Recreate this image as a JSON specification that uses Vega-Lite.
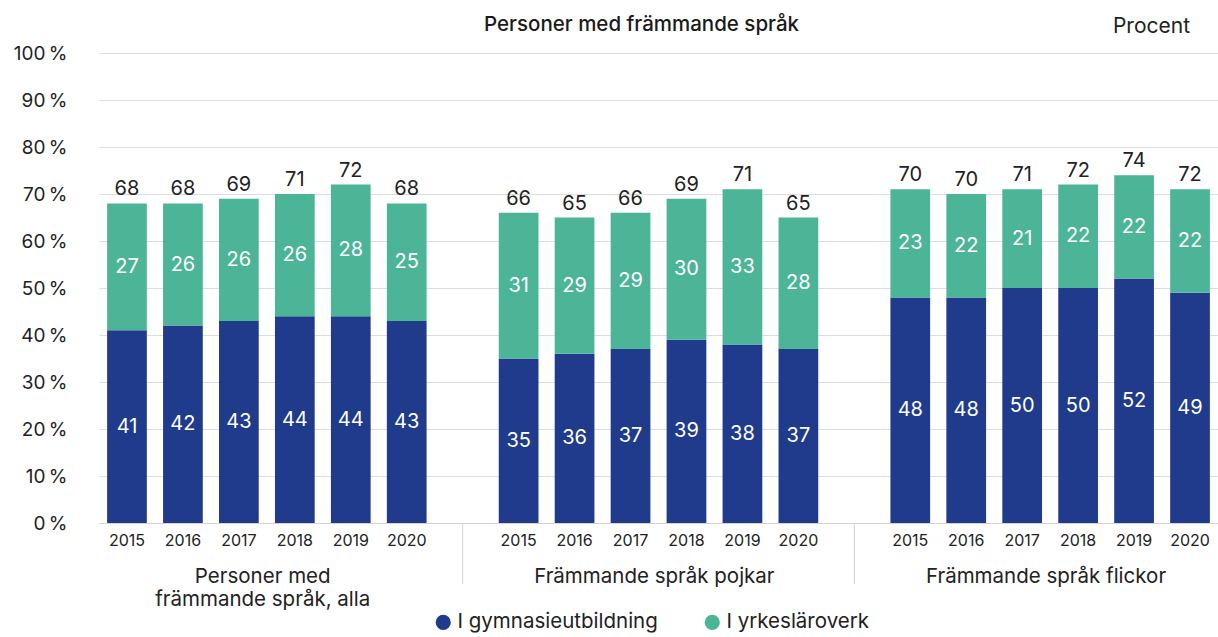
{
  "$schema": "https://vega.github.io/schema/vega-lite/v6.json",
  "width": 1119,
  "height": 470,
  "autosize": {"type": "none"},
  "padding": {"left": 99, "top": 53, "right": 0, "bottom": 114},
  "background": "white",
  "config": {"font": "Inter", "view": {"stroke": null}},
  "title": {"text": "Personer med främmande språk", "fontSize": 20.5, "fontWeight": 500, "color": "#1a1a1a", "anchor": "middle", "dx": -17, "offset": -19},
  "datasets": {
    "segs": [
      {"slot": "1-2015", "series": "I gymnasieutbildning", "value": 41, "total": 68},
      {"slot": "1-2016", "series": "I gymnasieutbildning", "value": 42, "total": 68},
      {"slot": "1-2017", "series": "I gymnasieutbildning", "value": 43, "total": 69},
      {"slot": "1-2018", "series": "I gymnasieutbildning", "value": 44, "total": 71},
      {"slot": "1-2019", "series": "I gymnasieutbildning", "value": 44, "total": 72},
      {"slot": "1-2020", "series": "I gymnasieutbildning", "value": 43, "total": 68},
      {"slot": "1-2015", "series": "I yrkesläroverk", "value": 27, "total": 68},
      {"slot": "1-2016", "series": "I yrkesläroverk", "value": 26, "total": 68},
      {"slot": "1-2017", "series": "I yrkesläroverk", "value": 26, "total": 69},
      {"slot": "1-2018", "series": "I yrkesläroverk", "value": 26, "total": 71},
      {"slot": "1-2019", "series": "I yrkesläroverk", "value": 28, "total": 72},
      {"slot": "1-2020", "series": "I yrkesläroverk", "value": 25, "total": 68},
      {"slot": "2-2015", "series": "I gymnasieutbildning", "value": 35, "total": 66},
      {"slot": "2-2016", "series": "I gymnasieutbildning", "value": 36, "total": 65},
      {"slot": "2-2017", "series": "I gymnasieutbildning", "value": 37, "total": 66},
      {"slot": "2-2018", "series": "I gymnasieutbildning", "value": 39, "total": 69},
      {"slot": "2-2019", "series": "I gymnasieutbildning", "value": 38, "total": 71},
      {"slot": "2-2020", "series": "I gymnasieutbildning", "value": 37, "total": 65},
      {"slot": "2-2015", "series": "I yrkesläroverk", "value": 31, "total": 66},
      {"slot": "2-2016", "series": "I yrkesläroverk", "value": 29, "total": 65},
      {"slot": "2-2017", "series": "I yrkesläroverk", "value": 29, "total": 66},
      {"slot": "2-2018", "series": "I yrkesläroverk", "value": 30, "total": 69},
      {"slot": "2-2019", "series": "I yrkesläroverk", "value": 33, "total": 71},
      {"slot": "2-2020", "series": "I yrkesläroverk", "value": 28, "total": 65},
      {"slot": "3-2015", "series": "I gymnasieutbildning", "value": 48, "total": 70},
      {"slot": "3-2016", "series": "I gymnasieutbildning", "value": 48, "total": 70},
      {"slot": "3-2017", "series": "I gymnasieutbildning", "value": 50, "total": 71},
      {"slot": "3-2018", "series": "I gymnasieutbildning", "value": 50, "total": 72},
      {"slot": "3-2019", "series": "I gymnasieutbildning", "value": 52, "total": 74},
      {"slot": "3-2020", "series": "I gymnasieutbildning", "value": 49, "total": 72},
      {"slot": "3-2015", "series": "I yrkesläroverk", "value": 23, "total": 70},
      {"slot": "3-2016", "series": "I yrkesläroverk", "value": 22, "total": 70},
      {"slot": "3-2017", "series": "I yrkesläroverk", "value": 21, "total": 71},
      {"slot": "3-2018", "series": "I yrkesläroverk", "value": 22, "total": 72},
      {"slot": "3-2019", "series": "I yrkesläroverk", "value": 22, "total": 74},
      {"slot": "3-2020", "series": "I yrkesläroverk", "value": 22, "total": 72}
    ],
    "seps": [{"slot": "gap1"}, {"slot": "gap2"}],
    "groups": [
      {"slot": "1-2017", "label": ["Personer med", "främmande språk, alla"]},
      {"slot": "2-2017", "label": ["Främmande språk pojkar"]},
      {"slot": "3-2017", "label": ["Främmande språk flickor"]}
    ],
    "unit": [{"label": "Procent"}]
  },
  "layer": [
    {
      "data": {"name": "segs"},
      "mark": {"type": "bar"},
      "encoding": {
        "x": {
          "field": "slot", "type": "nominal", "sort": null,
          "scale": {
            "domain": ["1-2015","1-2016","1-2017","1-2018","1-2019","1-2020","gap1","2-2015","2-2016","2-2017","2-2018","2-2019","2-2020","gap2","3-2015","3-2016","3-2017","3-2018","3-2019","3-2020"],
            "paddingInner": 0.29, "paddingOuter": 0.145
          },
          "axis": {
            "title": null, "ticks": false, "labelAngle": 0, "labelPadding": 9,
            "labelFontSize": 16, "labelColor": "#222", "domainColor": "#d4d4d4",
            "labelExpr": "indexof(datum.value,'gap')==0 ? '' : slice(datum.value,2)"
          }
        },
        "y": {
          "field": "value", "type": "quantitative", "stack": "zero",
          "scale": {"domain": [0, 100]},
          "axis": {
            "title": null, "values": [0,10,20,30,40,50,60,70,80,90,100],
            "labelExpr": "datum.value + '\u2009%'", "labelFontSize": 19, "labelColor": "#222",
            "labelPadding": 32, "ticks": false, "domain": false,
            "grid": true, "gridColor": "#dddddd"
          }
        },
        "order": {"field": "series", "sort": "ascending"},
        "color": {
          "field": "series", "type": "nominal",
          "scale": {"domain": ["I gymnasieutbildning", "I yrkesläroverk"], "range": ["#213b8c", "#4cb598"]},
          "legend": {
            "title": null, "orient": "none", "legendX": 334, "legendY": 559, "direction": "horizontal", "symbolType": "circle",
            "symbolSize": 230, "labelFontSize": 20.5, "labelColor": "#222", "columnPadding": 44,
            "labelOffset": 4, "labelLimit": 0
          }
        }
      }
    },
    {
      "data": {"name": "segs"},
      "mark": {"type": "text", "color": "white", "fontSize": 20, "baseline": "middle"},
      "encoding": {
        "x": {"field": "slot", "type": "nominal", "sort": null},
        "y": {"field": "value", "type": "quantitative", "stack": "zero", "bandPosition": 0.5},
        "order": {"field": "series", "sort": "ascending"},
        "detail": {"field": "series", "type": "nominal"},
        "text": {"field": "value", "type": "quantitative"}
      }
    },
    {
      "data": {"name": "segs"},
      "transform": [{"aggregate": [{"op": "sum", "field": "value", "as": "top"}], "groupby": ["slot", "total"]}],
      "mark": {"type": "text", "color": "#222", "fontSize": 20, "baseline": "bottom", "dy": -4},
      "encoding": {
        "x": {"field": "slot", "type": "nominal", "sort": null},
        "y": {"field": "top", "type": "quantitative"},
        "text": {"field": "total", "type": "quantitative"}
      }
    },
    {
      "data": {"name": "seps"},
      "mark": {"type": "rule", "color": "#d4d4d4", "clip": false},
      "encoding": {
        "x": {"field": "slot", "type": "nominal", "sort": null},
        "y": {"datum": 0},
        "y2": {"datum": -13}
      }
    },
    {
      "data": {"name": "groups"},
      "mark": {"type": "text", "color": "#222", "fontSize": 20.5, "baseline": "top", "align": "center", "lineHeight": 23},
      "encoding": {
        "x": {"field": "slot", "type": "nominal", "sort": null, "bandPosition": 1.1},
        "y": {"datum": -9.3},
        "text": {"field": "label"}
      }
    },
    {
      "data": {"name": "unit"},
      "mark": {"type": "text", "color": "#222", "fontSize": 21, "baseline": "middle", "align": "right"},
      "encoding": {
        "x": {"datum": "3-2020", "type": "nominal", "bandPosition": 0.5},
        "y": {"datum": 105.5},
        "text": {"field": "label"}
      }
    }
  ]
}
